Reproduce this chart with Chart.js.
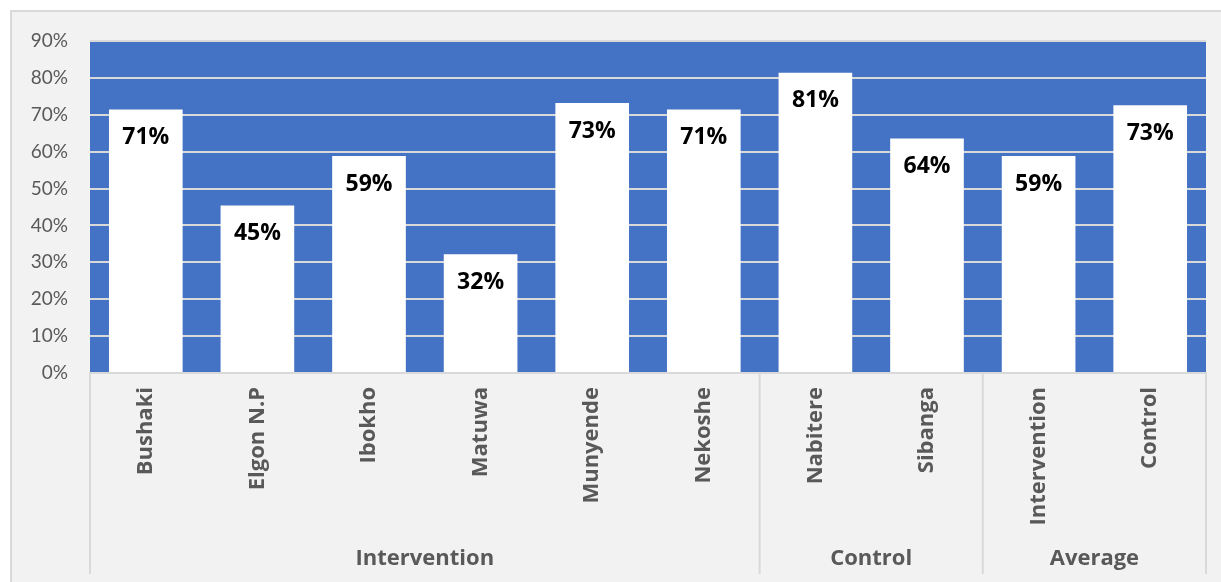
<!DOCTYPE html>
<html>
<head>
<meta charset="utf-8">
<script src="https://cdn.jsdelivr.net/npm/chart.js@4.4.0/dist/chart.umd.min.js"></script>
<style>
  html, body { margin: 0; padding: 0; background: #fff; }
  #wrap { width: 1221px; height: 582px; position: relative; }
</style>
</head>
<body>
<div id="wrap"><canvas id="myChart"></canvas></div>
<script>
"use strict";
const sites = ["Bushaki", "Elgon N.P", "Ibokho", "Matuwa", "Munyende", "Nekoshe", "Nabitere", "Sibanga", "Intervention", "Control"];
const coverage = [71.4, 45.4, 58.8, 32.2, 73.2, 71.4, 81.4, 63.6, 58.8, 72.6];
const groupNames = ["Intervention", "Control", "Average"];
const groupSizes = [6, 2, 2];
const yMax = 90;
const yStep = 10;

const blue = "#4472C4";
const grey = "#595959";
const lineGrey = "#D9D9D9";
const font = "Lato, 'Open Sans', sans-serif";
const boldFont = "'Open Sans', Lato, sans-serif";

// grey frame behind everything, blue plot area
const backgroundPlugin = {
  id: "background",
  beforeDraw(chart) {
    const c = chart.ctx;
    const a = chart.chartArea;
    c.save();
    c.fillStyle = "#fff";
    c.fillRect(0, 0, chart.width, chart.height);
    c.fillStyle = "#F2F2F2";
    c.fillRect(11, 11, chart.width - 11, chart.height - 11);
    c.strokeStyle = lineGrey;
    c.lineWidth = 2;
    c.beginPath();
    c.moveTo(11, chart.height);
    c.lineTo(11, 11);
    c.lineTo(chart.width, 11);
    c.stroke();
    c.fillStyle = blue;
    c.fillRect(a.left, a.top, a.right - a.left, a.bottom - a.top);
    c.restore();
  }
};

// percent label near the top of each bar
const valueLabels = {
  id: "valueLabels",
  afterDatasetsDraw(chart) {
    const c = chart.ctx;
    const meta = chart.getDatasetMeta(0);
    c.save();
    c.fillStyle = "#000";
    c.font = "bold 23px " + boldFont;
    c.textAlign = "center";
    c.textBaseline = "middle";
    meta.data.forEach((bar, i) => {
      c.fillText(Math.round(coverage[i]) + "%", bar.x, bar.y + 28);
    });
    c.restore();
  }
};

// second row of x labels with separators
const groupLabels = {
  id: "groupLabels",
  afterDraw(chart) {
    const c = chart.ctx;
    const x = chart.scales.x;
    const top = chart.chartArea.bottom;
    c.save();
    c.strokeStyle = lineGrey;
    c.lineWidth = 2;
    c.fillStyle = grey;
    c.font = "bold 22px " + boldFont;
    c.textAlign = "center";
    c.textBaseline = "middle";
    let start = 0;
    groupNames.forEach((name, g) => {
      const end = start + groupSizes[g] - 1;
      const left = x.getPixelForValue(start - 0.5);
      const right = x.getPixelForValue(end + 0.5);
      c.beginPath();
      c.moveTo(left, top);
      c.lineTo(left, 574);
      if (g === groupNames.length - 1) {
        c.moveTo(right, top);
        c.lineTo(right, 574);
      }
      c.stroke();
      c.fillText(name, (left + right) / 2, 559);
      start = end + 1;
    });
    c.restore();
  }
};

const ctx = document.getElementById("myChart");

const myChart = new Chart(ctx, {
  type: "bar",
  data: {
    labels: sites,
    datasets: [
      {
        data: coverage,
        backgroundColor: "#fff",
        borderWidth: 0,
        categoryPercentage: 1,
        barPercentage: 0.66,
      },
    ],
  },
  options: {
    responsive: true,
    maintainAspectRatio: false,
    animation: false,
    layout: { padding: { top: 41, right: 15, left: 0, bottom: 0 } },
    plugins: {
      legend: { display: false },
      tooltip: { enabled: false },
    },
    scales: {
      x: {
        grid: { display: false, drawTicks: false },
        border: { display: true, color: lineGrey, width: 2 },
        ticks: {
          autoSkip: false,
          minRotation: 90,
          maxRotation: 90,
          padding: 14,
          color: grey,
          font: { family: boldFont, size: 22, weight: "bold" },
        },
        afterFit(scale) {
          scale.height = 209;
        },
      },
      y: {
        min: 0,
        max: yMax,
        grid: { color: lineGrey, lineWidth: 2, drawTicks: false },
        border: { display: false },
        ticks: {
          stepSize: yStep,
          padding: 22,
          color: grey,
          font: { family: font, size: 19 },
          callback: (v) => v + "%",
        },
        afterFit(scale) {
          scale.width = 90;
        },
      },
    },
  },
  plugins: [backgroundPlugin, valueLabels, groupLabels],
});
</script>
</body>
</html>
